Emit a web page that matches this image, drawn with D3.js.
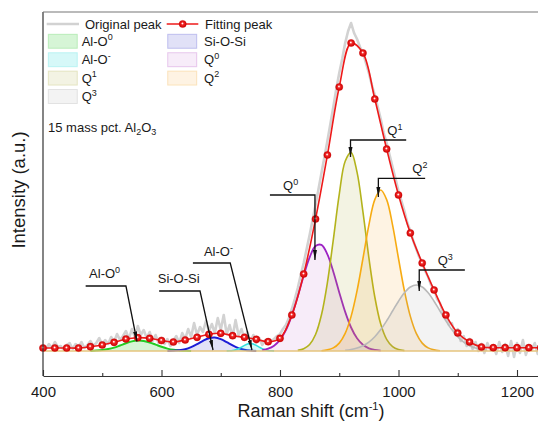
<!DOCTYPE html>
<html><head><meta charset="utf-8">
<script src="https://cdn.jsdelivr.net/npm/d3@7"></script>
<style>
body{margin:0;background:#fff}
svg{display:block}
text{font-family:Arial,"Liberation Sans",sans-serif;fill:#1a1a1a}
</style>
</head><body>
<svg id="chart" width="538" height="423"></svg>
<script>
// ---------------- DATA ----------------
const xTicks = [400, 600, 800, 1000, 1200];
const xMinorTicks = [500, 700, 900, 1100];

// Original (measured) spectrum, sampled every 5 cm-1 from 400
const rawStart = 400, rawStep = 5;
const rawIntensity = [
0.06,0.02,0.07,0.03,0.09,0.04,0.05,0.01,0.06,0.08,0.02,0.07,0.04,0.09,0.03,0.06,
0.10,0.05,0.08,0.13,0.06,0.11,0.07,0.14,0.09,0.17,0.11,0.15,0.20,0.12,0.22,0.14,
0.25,0.16,0.21,0.13,0.19,0.10,0.16,0.08,0.13,0.07,0.12,0.05,0.10,0.15,0.08,0.18,
0.12,0.22,0.14,0.28,0.16,0.24,0.19,0.30,0.20,0.27,0.18,0.33,0.21,0.36,0.17,0.26,
0.14,0.31,0.16,0.22,0.12,0.19,0.09,0.16,0.08,0.13,0.06,0.11,0.07,0.10,0.12,0.15,
0.17,0.22,0.26,0.33,0.42,0.52,0.63,0.76,0.88,1.02,1.16,1.31,1.46,1.62,1.78,1.94,
2.10,2.27,2.44,2.62,2.78,2.92,3.08,3.20,3.28,3.18,3.12,3.04,2.98,2.88,2.78,2.66,
2.56,2.44,2.32,2.18,2.08,1.96,1.84,1.72,1.60,1.50,1.40,1.28,1.20,1.10,1.02,0.94,
0.88,0.80,0.74,0.66,0.62,0.52,0.48,0.38,0.36,0.26,0.28,0.18,0.22,0.10,0.15,0.05,
0.12,0.02,0.09,0.00,0.07,-0.02,0.08,0.01,0.06,-0.03,0.09,-0.01,0.07,-0.05,0.10,-0.06,
0.08,-0.02,0.11,-0.04,0.06,0.01,0.08,-0.03,0.05
];

// Fitting peak (sum), read at the marker positions
const fitShift = [400,420,440,460,480,500,520,540,560,580,600,620,640,660,680,700,720,740,760,780,
  800,820,840,860,880,900,920,940,960,980,1000,1020,1040,1060,1080,1100,1120,1140,1160,1180,1200,1220,1240];
const fitIntensity = [0.03,0.03,0.03,0.03,0.043,0.06,0.087,0.12,0.133,0.127,0.105,0.09,0.11,0.137,0.167,0.177,0.153,0.137,0.117,0.093,
  0.127,0.36,0.77,1.32,1.96,2.64,3.08,2.98,2.52,2.02,1.56,1.18,0.88,0.61,0.36,0.18,0.09,0.04,0.033,0.033,0.033,0.033,0.033];

// Fitted component bands [shift, intensity]
const alO0 = [[480,0.001],[490,0.004],[500,0.009],[510,0.019],[520,0.034],[530,0.055],[540,0.077],[550,0.096],[560,0.105],[570,0.101],[580,0.085],[590,0.064],[600,0.042],[610,0.024],[620,0.012],[630,0.006],[640,0.002],[650,0.001]];
const siOSi = [[610,0.001],[620,0.002],[630,0.007],[640,0.018],[650,0.039],[660,0.068],[670,0.102],[680,0.128],[690,0.135],[700,0.119],[710,0.089],[720,0.056],[730,0.029],[740,0.013],[750,0.005],[760,0.001]];
const alOm = [[710,0.001],[715,0.002],[720,0.005],[725,0.012],[730,0.023],[735,0.039],[740,0.056],[745,0.070],[750,0.075],[755,0.070],[760,0.056],[765,0.039],[770,0.023],[775,0.012],[780,0.005],[785,0.002],[790,0.001]];
const q0 = [[770,0.009],[780,0.023],[790,0.053],[800,0.111],[810,0.209],[820,0.356],[830,0.545],[840,0.753],[850,0.937],[860,1.050],[870,1.061],[880,0.966],[890,0.793],[900,0.586],[910,0.391],[920,0.235],[930,0.127],[940,0.062],[950,0.027],[960,0.011],[970,0.004]];
const q1 = [[830,0.006],[840,0.022],[850,0.065],[860,0.165],[870,0.362],[880,0.684],[890,1.114],[900,1.566],[910,1.898],[920,1.984],[930,1.789],[940,1.391],[950,0.933],[960,0.540],[970,0.269],[980,0.116],[990,0.043],[1000,0.014],[1010,0.004]];
const q2 = [[870,0.003],[880,0.011],[890,0.031],[900,0.079],[910,0.176],[920,0.346],[930,0.601],[940,0.925],[950,1.259],[960,1.514],[970,1.610],[980,1.514],[990,1.259],[1000,0.925],[1010,0.601],[1020,0.346],[1030,0.176],[1040,0.079],[1050,0.031],[1060,0.011],[1070,0.003]];
const q3 = [[910,0.007],[920,0.015],[930,0.029],[940,0.053],[950,0.089],[960,0.143],[970,0.214],[980,0.302],[990,0.400],[1000,0.498],[1010,0.582],[1020,0.640],[1030,0.660],[1040,0.640],[1050,0.582],[1060,0.498],[1070,0.400],[1080,0.302],[1090,0.214],[1100,0.143],[1110,0.089],[1120,0.053],[1130,0.029],[1140,0.015],[1150,0.007]];

const componentNames = [["Al-O","0"],["Si-O-Si",""],["Al-O","-"],["Q","0"],["Q","1"],["Q","2"],["Q","3"]];
const componentData = [alO0, siOSi, alOm, q0, q1, q2, q3];

// Callouts: label position, bar start/end, arrow tip (data coords)
const callouts = [
  {name:["Al-O","0"],   label:[504,0.73], bar:[472,540,0.65],  tip:[558.6,0.095]},
  {name:["Si-O-Si",""], label:[629,0.68], bar:[596,665,0.60],  tip:[687,0.01]},
  {name:["Al-O","-"],   label:[696,0.95], bar:[653,716,0.88],  tip:[752.7,0.01]},
  {name:["Q","0"],      label:[818,1.61], bar:[783,859,1.56],  tip:[859,0.91]},
  {name:["Q","1"],      label:[994,2.16], bar:[1013,919,2.11], tip:[919,1.94]},
  {name:["Q","2"],      label:[1036,1.78],bar:[1045,966,1.727],tip:[966,1.54]},
  {name:["Q","3"],      label:[1079,0.86],bar:[1112,1035,0.81],tip:[1035,0.60]}
];

// ---------------- STYLE ----------------
const lineColors = ["#22cc22","#1c1cd6","#2edede","#9d22c4","#b3b31c","#f7ab12","#b9b9b9"];
const fillColors = ["#33cc33","#3333cc","#33dddd","#b040c0","#b0b040","#f5a623","#a0a0a0"];
const fillOpac   = [0.2,0.15,0.2,0.1,0.15,0.13,0.12];
const lineWidths = [2,2,1.6,1.8,1.6,1.6,1.6];

const svg = d3.select("#chart");
const x = d3.scaleLinear().domain([400,1250]).range([43, 43 + 850*0.5925]);
const y = d3.scaleLinear().domain([-0.25,3.39]).range([376,12]);

const defs = svg.append("defs");
const grad = defs.append("radialGradient").attr("id","ball").attr("cx","50%").attr("cy","50%").attr("r","50%").attr("fx","45%").attr("fy","40%");
grad.append("stop").attr("offset","0%").attr("stop-color","#ffffff");
grad.append("stop").attr("offset","10%").attr("stop-color","#fff0f0");
grad.append("stop").attr("offset","38%").attr("stop-color","#f22a2a");
grad.append("stop").attr("offset","100%").attr("stop-color","#cc0000");
defs.append("marker").attr("id","arrow").attr("viewBox","0 0 10 4").attr("refX",10).attr("refY",2)
  .attr("markerWidth",10).attr("markerHeight",4.4).attr("markerUnits","userSpaceOnUse").attr("orient","auto")
  .append("path").attr("d","M0,0L10,2L0,4Z").attr("fill","#111");

// original spectrum
const rawPts = rawIntensity.map((v,i)=>[rawStart + i*rawStep, v]);
svg.append("path").datum(rawPts)
  .attr("d", d3.line().x(d=>x(d[0])).y(d=>y(d[1])))
  .attr("fill","none").attr("stroke","#d2d2d2").attr("stroke-width",2.6).attr("stroke-linejoin","round");

// components
const area = d3.area().x(d=>x(d[0])).y0(y(0)).y1(d=>y(d[1])).curve(d3.curveCatmullRom.alpha(0.5));
const cline = d3.line().x(d=>x(d[0])).y(d=>y(d[1])).curve(d3.curveCatmullRom.alpha(0.5));
componentData.forEach((data,i)=>{
  svg.append("path").datum(data).attr("d",area).attr("fill",fillColors[i]).attr("fill-opacity",fillOpac[i]);
  svg.append("path").datum(data).attr("d",cline).attr("fill","none").attr("stroke",lineColors[i]).attr("stroke-width",lineWidths[i]);
});
// baseline of the components
svg.append("line").attr("x1",x(400)).attr("x2",x(1250)).attr("y1",y(0)).attr("y2",y(0))
  .attr("stroke","#e6c47e").attr("stroke-width",1.3);

// fitting peak
const fitPts = fitShift.map((s,i)=>[s, fitIntensity[i]]);
svg.append("path").datum(fitPts)
  .attr("d", d3.line().x(d=>x(d[0])).y(d=>y(d[1])).curve(d3.curveCatmullRom.alpha(0.5)))
  .attr("fill","none").attr("stroke","#ee1a1a").attr("stroke-width",1.6);
svg.append("g").selectAll("circle").data(fitPts).join("circle")
  .attr("cx",d=>x(d[0])).attr("cy",d=>y(d[1])).attr("r",3.6)
  .attr("fill","url(#ball)").attr("stroke","#d00000").attr("stroke-width",0.4);

// callouts
function labelText(sel, name){
  sel.append("tspan").text(name[0]);
  if(name[1]) sel.append("tspan").attr("dy",-5.5).attr("font-size",9).text(name[1]);
}
callouts.forEach(c=>{
  svg.append("polyline")
    .attr("points",[[x(c.bar[0]),y(c.bar[2])],[x(c.bar[1]),y(c.bar[2])],[x(c.tip[0]),y(c.tip[1])]].map(p=>p.join(",")).join(" "))
    .attr("fill","none").attr("stroke","#111").attr("stroke-width",1.3).attr("marker-end","url(#arrow)");
  const t = svg.append("text").attr("x",x(c.label[0])).attr("y",y(c.label[1])).attr("text-anchor","middle").attr("font-size",13);
  labelText(t, c.name);
});

// axes
const axis = svg.append("g").attr("transform","translate(0,376)")
  .call(d3.axisBottom(x).tickValues(xTicks).tickSizeInner(-6).tickSizeOuter(0).tickPadding(10).tickFormat(d3.format("d")));
axis.select(".domain").attr("stroke","#333").attr("stroke-width",1.2);
axis.selectAll(".tick line").attr("stroke","#333").attr("stroke-width",1.1);
axis.selectAll(".tick text").attr("font-size",15).attr("fill","#1a1a1a").attr("font-family","Arial, 'Liberation Sans', sans-serif");
const minor = svg.append("g").attr("transform","translate(0,376)")
  .call(d3.axisBottom(x).tickValues(xMinorTicks).tickSizeInner(-3).tickSizeOuter(0).tickFormat(""));
minor.select(".domain").remove();
minor.selectAll(".tick line").attr("stroke","#333").attr("stroke-width",1.1);
svg.append("line").attr("x1",43).attr("x2",43).attr("y1",12).attr("y2",376).attr("stroke","#333").attr("stroke-width",1.2);
svg.append("line").attr("x1",43).attr("x2",x(1250)).attr("y1",12).attr("y2",12).attr("stroke","#777").attr("stroke-width",1.2);

// axis titles
const xt = svg.append("text").attr("x",311).attr("y",416.5).attr("text-anchor","middle").attr("font-size",18);
xt.append("tspan").text("Raman shift (cm");
xt.append("tspan").attr("dy",-7).attr("font-size",11).text("-1");
xt.append("tspan").attr("dy",7).text(")");
svg.append("text").attr("transform","translate(25,190) rotate(-90)").attr("text-anchor","middle").attr("font-size",18.5).text("Intensity (a.u.)");

// composition note
const note = svg.append("text").attr("x",48).attr("y",131.5).attr("font-size",13);
note.append("tspan").text("15 mass pct. Al");
note.append("tspan").attr("dy",3).attr("font-size",9).text("2");
note.append("tspan").attr("dy",-3).text("O");
note.append("tspan").attr("dy",3).attr("font-size",9).text("3");

// legend
const lg = svg.append("g");
lg.append("line").attr("x1",46.7).attr("x2",79).attr("y1",24).attr("y2",24).attr("stroke","#d2d2d2").attr("stroke-width",2.6);
lg.append("text").attr("x",85).attr("y",28.6).attr("font-size",13).text("Original peak");
lg.append("line").attr("x1",166.7).attr("x2",198.3).attr("y1",24).attr("y2",24).attr("stroke","#ee1a1a").attr("stroke-width",1.6);
lg.append("circle").attr("cx",182.7).attr("cy",24).attr("r",3.6).attr("fill","url(#ball)").attr("stroke","#d00000").attr("stroke-width",0.4);
lg.append("text").attr("x",205).attr("y",28.6).attr("font-size",13).text("Fitting peak");
const legendSlots = [[0,0],[1,0],[0,1],[1,1],[0,2],[1,2],[0,3]]; // order: AlO0, SiOSi, AlO-, Q0, Q1, Q2, Q3
componentNames.forEach((nm,i)=>{
  const col = legendSlots[i][0], row = legendSlots[i][1];
  const sx = col ? 167.7 : 48.3, cy = 41.3 + row*18.4;
  lg.append("rect").attr("x",sx).attr("y",cy-7).attr("width",29).attr("height",14)
    .attr("fill",fillColors[i]).attr("fill-opacity",fillOpac[i])
    .attr("stroke",fillColors[i]).attr("stroke-opacity",0.25).attr("stroke-width",1);
  const t = lg.append("text").attr("x", col ? 204 : 81.7).attr("y",cy+4.6).attr("font-size",13);
  labelText(t, nm);
});
</script>
</body></html>
